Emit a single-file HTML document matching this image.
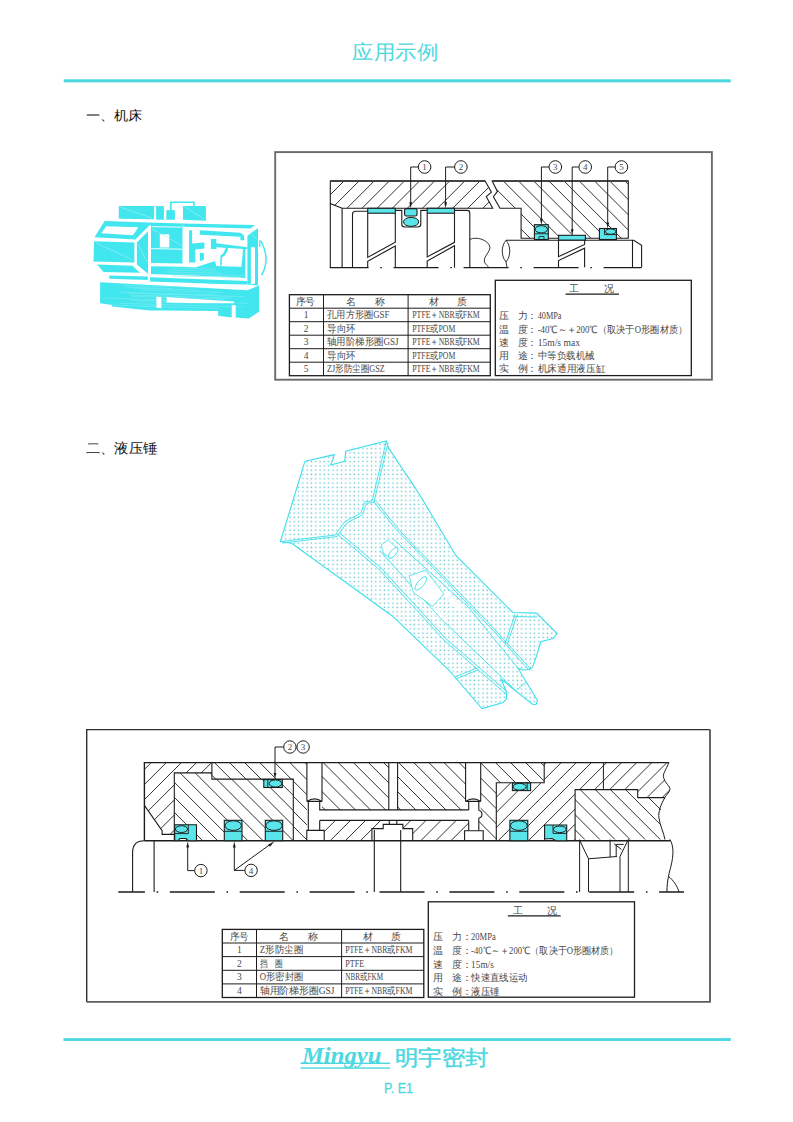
<!DOCTYPE html>
<html><head><meta charset="utf-8"><title>应用示例</title>
<style>
html,body{margin:0;padding:0;background:#fff;}
body{width:793px;height:1122px;position:relative;overflow:hidden;font-family:"Liberation Sans",sans-serif;}
.t{position:absolute;white-space:nowrap;line-height:1;}
</style></head><body>
<svg width="793" height="1122" viewBox="0 0 793 1122" style="position:absolute;left:0;top:0">
<defs><clipPath id="c1"><polygon points="330.3,181.0 485.1,181.0 491.4,192.2 486.3,196.7 492.7,208.3 342.1,208.3 330.3,203.6"/></clipPath><clipPath id="c2"><polygon points="492.2,181.0 628.3,181.0 628.3,238.3 521.1,238.3 521.1,208.3 500.0,208.3 493.4,196.7 497.4,191.4"/></clipPath><clipPath id="c3"><polygon points="144.4,762.6 211.9,762.6 211.9,772.9 174.3,772.9 174.3,834.4 162.1,834.4 162.1,830.7 144.4,805.4"/></clipPath><clipPath id="c4"><polygon points="211.9,762.6 306.9,762.6 306.9,840.7 293.3,840.7 293.3,779.1 211.9,779.1"/></clipPath><clipPath id="c5"><polygon points="174.3,772.9 211.9,772.9 211.9,779.1 293.3,779.1 293.3,840.7 174.3,840.7"/></clipPath><clipPath id="c6"><polygon points="322.0,762.6 388.8,762.6 388.8,810.2 322.0,810.2"/></clipPath><clipPath id="c7"><polygon points="397.6,762.6 465.6,762.6 465.6,810.2 397.6,810.2"/></clipPath><clipPath id="c8"><polygon points="319.7,820.4 389.3,820.4 389.3,824.4 396.8,824.4 396.8,820.4 468.7,820.4 468.7,830.7 464.6,830.7 464.6,840.7 412.7,840.7 412.7,828.6 402.9,828.6 402.9,824.4 383.2,824.4 383.2,828.6 371.9,828.6 371.9,840.7 324.2,840.7 324.2,830.4 319.7,830.4"/></clipPath><clipPath id="c9"><polygon points="480.7,762.6 544.2,762.6 544.2,782.7 496.3,782.7 496.3,840.7 483.2,840.7 483.2,830.7 478.8,830.7 478.8,820.6 480.7,818.0 480.7,810.2"/></clipPath><clipPath id="c10"><polygon points="496.3,782.7 544.2,782.7 544.2,762.6 669.0,762.6 663.9,778.4 670.0,789.5 664.9,797.6 637.7,797.6 637.7,789.6 575.1,789.6 575.1,840.7 496.3,840.7"/></clipPath><clipPath id="c11"><polygon points="575.1,789.6 637.7,789.6 637.7,797.6 664.9,797.6 658.9,817.7 664.9,839.5 575.1,839.5"/></clipPath><clipPath id="bedclip"><path d="M100.1,282.2L247.6,290.2L259.0,285.6L259.0,311.7L248.8,318.6L235.7,317.4L235.7,305.0L231.7,305.0L231.7,317.4L218.1,315.7L218.1,311.0L163.1,310.6L149.5,310.6L112.0,306.6L112.0,304.9L100.1,303.2ZM156.3,296.4L161.4,297.0L161.4,308.3L156.3,307.8ZM166.5,297.0L234.0,301.6L234.0,303.3L218.1,303.3L166.5,302.8Z" clip-rule="evenodd"/></clipPath><pattern id="dots" x="0.5" y="0.5" width="4.29" height="4.29" patternUnits="userSpaceOnUse"><rect x="1.4" y="1.4" width="1.35" height="1.35" fill="#5ec3cc"/></pattern></defs>
<rect x="63.7" y="79.3" width="667.1" height="3.1" fill="#4dd8e0"/>
<rect x="63.5" y="1038.1" width="667.3" height="2.9" fill="#4dd8e0"/>
<text x="395.3" y="59.2" font-family="Liberation Sans, sans-serif" font-size="20" fill="#4dd8e0" text-anchor="middle" font-weight="normal" font-style="normal" textLength="85.7" lengthAdjust="spacingAndGlyphs" >应用示例</text>
<text x="85.7" y="120.3" font-family="Liberation Sans, sans-serif" font-size="13.2" fill="#111" text-anchor="start" font-weight="normal" font-style="normal" textLength="56.6" lengthAdjust="spacingAndGlyphs" >一、机床</text>
<text x="85.6" y="453.2" font-family="Liberation Sans, sans-serif" font-size="13.5" fill="#111" text-anchor="start" font-weight="normal" font-style="normal" textLength="71.9" lengthAdjust="spacingAndGlyphs" >二、液压锤</text>
<text x="301.9" y="1062.8" font-family="Liberation Serif, serif" font-size="24" fill="#4dd8e0" text-anchor="start" font-weight="bold" font-style="italic" textLength="79.5" lengthAdjust="spacingAndGlyphs" >Mingyu</text>
<rect x="300.6" y="1062.6" width="89.5" height="1.4" fill="#4dd8e0"/>
<rect x="300.6" y="1067.4" width="89.5" height="1.4" fill="#4dd8e0"/>
<text x="394.6" y="1065.0" font-family="Liberation Sans, sans-serif" font-size="21" fill="#4dd8e0" text-anchor="start" font-weight="normal" font-style="normal" textLength="94.0" lengthAdjust="spacingAndGlyphs" stroke="#4dd8e0" stroke-width="0.45">明宇密封</text>
<text x="384.0" y="1092.7" font-family="Liberation Sans, sans-serif" font-size="14" fill="#4dd8e0" text-anchor="start" font-weight="normal" font-style="normal" textLength="29.1" lengthAdjust="spacingAndGlyphs" stroke="#4dd8e0" stroke-width="0.3">P. E1</text>
<rect x="275.2" y="152.1" width="436.7" height="227.6" fill="none" stroke="#6a6a6a" stroke-width="1.9"/>
<path clip-path="url(#c1)" d="M330.9,179.0L299.6,210.3M346.0,179.0L314.7,210.3M361.1,179.0L329.8,210.3M376.2,179.0L344.9,210.3M391.3,179.0L360.0,210.3M406.4,179.0L375.1,210.3M421.5,179.0L390.2,210.3M436.6,179.0L405.3,210.3M451.7,179.0L420.4,210.3M466.8,179.0L435.5,210.3M481.9,179.0L450.6,210.3M497.0,179.0L465.7,210.3M512.1,179.0L480.8,210.3" stroke="#1c1c1c" stroke-width="0.9" fill="none"/>
<polygon points="330.3,181.0 485.1,181.0 491.4,192.2 486.3,196.7 492.7,208.3 342.1,208.3 330.3,203.6" fill="none" stroke="#1c1c1c" stroke-width="1.1" />
<path d="M330.3,181H485.1" stroke="#444" stroke-width="1.8" fill="none" />
<path clip-path="url(#c2)" d="M440.5,179.0L501.8,240.3M455.7,179.0L517.0,240.3M470.9,179.0L532.2,240.3M486.1,179.0L547.4,240.3M501.3,179.0L562.6,240.3M516.5,179.0L577.8,240.3M531.7,179.0L593.0,240.3M546.9,179.0L608.2,240.3M562.1,179.0L623.4,240.3M577.3,179.0L638.6,240.3M592.5,179.0L653.8,240.3M607.7,179.0L669.0,240.3M622.9,179.0L684.2,240.3" stroke="#1c1c1c" stroke-width="0.9" fill="none"/>
<polygon points="492.2,181.0 628.3,181.0 628.3,238.3 521.1,238.3 521.1,208.3 500.0,208.3 493.4,196.7 497.4,191.4" fill="none" stroke="#1c1c1c" stroke-width="1.1" />
<path d="M492.2,181H628.3" stroke="#444" stroke-width="1.8" fill="none" />
<path d="M330.3,203.6V267.7 M342.1,208.3V267.7" stroke="#1c1c1c" stroke-width="1.1" fill="none" />
<path d="M352.5,267.7V214.3Q352.5,211.3 355.5,211.3H367.7" stroke="#1c1c1c" stroke-width="1.1" fill="none" />
<rect x="367.7" y="208.3" width="27.6" height="4.9" rx="0" fill="#5ae5ea" stroke="#1c1c1c" stroke-width="1.1"/>
<path d="M367.7,213.2V257.4L395.3,242.2V213.2 M367.7,267.7V261.2L395.3,246V267.7" stroke="#1c1c1c" stroke-width="1.1" fill="none" />
<path d="M395.3,210.4H401.8V224.3Q401.8,227 404.8,227H417.8Q420.8,227 420.8,224.3V210.4H427.2" stroke="#1c1c1c" stroke-width="1.1" fill="none" />
<rect x="404.6" y="208.6" width="12.4" height="7.4" rx="1.5" fill="#5ae5ea" stroke="#1c1c1c" stroke-width="1.1"/>
<ellipse cx="411.1" cy="221.9" rx="7.6" ry="4.5" fill="#5ae5ea" stroke="#1c1c1c" stroke-width="1.0"/>
<rect x="427.2" y="208.3" width="27.3" height="4.9" rx="0" fill="#5ae5ea" stroke="#1c1c1c" stroke-width="1.1"/>
<path d="M427.2,213.2V256.9L454.5,242.3V213.2 M427.2,267.7V261L454.5,245.8V267.7" stroke="#1c1c1c" stroke-width="1.1" fill="none" />
<path d="M454.5,210.4H467Q469.8,210.4 469.8,213.2V267.7" stroke="#1c1c1c" stroke-width="1.1" fill="none" />
<path d="M469.8,239.5C476,236 489,240 489.9,247.2C490,252 484,256 484.3,261C484.5,264 488,266 489.2,267.7" stroke="#1c1c1c" stroke-width="0.9" fill="none" />
<path d="M329.8,267.6H641.6" stroke="#1c1c1c" stroke-width="1.2" fill="none" stroke-dasharray="45 11.7 1.6 11.7" stroke-dashoffset="6.2"/>
<path d="M506,240.3H633.7L641.6,245.3V267.3 M632.5,240.3V267.3" stroke="#1c1c1c" stroke-width="1.1" fill="none" />
<path d="M506,240.3C501,246 501,256 506,262C511,256 511,246 506,240.3 M506,262L507,267.3" stroke="#1c1c1c" stroke-width="0.9" fill="none" />
<path d="M558.5,240.3V256.7L584.6,244.4V240.3 M558.5,267.3V260.5L584.6,248.2V267.3" stroke="#1c1c1c" stroke-width="1.1" fill="none" />
<rect x="534.4" y="224.7" width="13.9" height="14.8" rx="0" fill="#5ae5ea" stroke="#1c1c1c" stroke-width="1.1"/>
<ellipse cx="541.3" cy="229.3" rx="6.2" ry="3.6" fill="#5ae5ea" stroke="#1c1c1c" stroke-width="1.0"/>
<path d="M534.4,233.8H548.3" stroke="#1c1c1c" stroke-width="0.9" fill="none" />
<path d="M539,239.5V236.5H544V239.5" stroke="#1c1c1c" stroke-width="0.8" fill="none" />
<rect x="558.6" y="235.3" width="26.8" height="4.8" rx="0" fill="#5ae5ea" stroke="#1c1c1c" stroke-width="1.1"/>
<rect x="599.4" y="228.5" width="17.0" height="11.0" rx="0" fill="#5ae5ea" stroke="#1c1c1c" stroke-width="1.1"/>
<path d="M604.5,228.5V234.6H616.4" stroke="#1c1c1c" stroke-width="0.9" fill="none" />
<ellipse cx="610.6" cy="231.6" rx="5.2" ry="2.7" fill="#5ae5ea" stroke="#1c1c1c" stroke-width="1.0"/>
<path d="M418.3,167H410.7V203.3" stroke="#1c1c1c" stroke-width="1.0" fill="none" />
<polygon points="409.3,202.3 412.1,202.3 410.7,208.3" fill="#1c1c1c"/>
<path d="M454.6,167H445.6V203.3" stroke="#1c1c1c" stroke-width="1.0" fill="none" />
<polygon points="444.2,202.3 447.0,202.3 445.6,208.3" fill="#1c1c1c"/>
<path d="M549.0,167H541.4V219.7" stroke="#1c1c1c" stroke-width="1.0" fill="none" />
<polygon points="540.0,218.7 542.8,218.7 541.4,224.7" fill="#1c1c1c"/>
<path d="M578.9,167H572.2V230.3" stroke="#1c1c1c" stroke-width="1.0" fill="none" />
<polygon points="570.8,229.3 573.6,229.3 572.2,235.3" fill="#1c1c1c"/>
<path d="M615.1,167H607.7V223.5" stroke="#1c1c1c" stroke-width="1.0" fill="none" />
<polygon points="606.3,222.5 609.1,222.5 607.7,228.5" fill="#1c1c1c"/>
<circle cx="424.6" cy="167.0" r="6.3" fill="#fff" stroke="#1c1c1c" stroke-width="1"/>
<text x="424.6" y="170.3" font-family="Liberation Serif, serif" font-size="9" fill="#484848" text-anchor="middle" font-weight="normal" font-style="normal" >1</text>
<circle cx="460.9" cy="167.0" r="6.3" fill="#fff" stroke="#1c1c1c" stroke-width="1"/>
<text x="460.9" y="170.3" font-family="Liberation Serif, serif" font-size="9" fill="#484848" text-anchor="middle" font-weight="normal" font-style="normal" >2</text>
<circle cx="555.3" cy="167.0" r="6.3" fill="#fff" stroke="#1c1c1c" stroke-width="1"/>
<text x="555.3" y="170.3" font-family="Liberation Serif, serif" font-size="9" fill="#484848" text-anchor="middle" font-weight="normal" font-style="normal" >3</text>
<circle cx="585.2" cy="167.0" r="6.3" fill="#fff" stroke="#1c1c1c" stroke-width="1"/>
<text x="585.2" y="170.3" font-family="Liberation Serif, serif" font-size="9" fill="#484848" text-anchor="middle" font-weight="normal" font-style="normal" >4</text>
<circle cx="621.4" cy="167.0" r="6.3" fill="#fff" stroke="#1c1c1c" stroke-width="1"/>
<text x="621.4" y="170.3" font-family="Liberation Serif, serif" font-size="9" fill="#484848" text-anchor="middle" font-weight="normal" font-style="normal" >5</text>
<rect x="289.4" y="294.7" width="200.9" height="81.0" fill="none" stroke="#1c1c1c" stroke-width="1.3"/>
<path d="M289.4,308.2H490.3" stroke="#1c1c1c" stroke-width="1.0" fill="none" />
<path d="M289.4,321.7H490.3" stroke="#1c1c1c" stroke-width="1.0" fill="none" />
<path d="M289.4,335.2H490.3" stroke="#1c1c1c" stroke-width="1.0" fill="none" />
<path d="M289.4,348.7H490.3" stroke="#1c1c1c" stroke-width="1.0" fill="none" />
<path d="M289.4,362.2H490.3" stroke="#1c1c1c" stroke-width="1.0" fill="none" />
<path d="M323.5,294.7V375.7 M408.1,294.7V375.7" stroke="#1c1c1c" stroke-width="1.0" fill="none" />
<text x="295.8" y="304.8" font-family="Liberation Serif, serif" font-size="9.5" fill="#484848" text-anchor="start" font-weight="normal" font-style="normal" textLength="19.4" lengthAdjust="spacingAndGlyphs" >序号</text>
<text x="345.7" y="304.8" font-family="Liberation Serif, serif" font-size="9.5" fill="#484848" text-anchor="start" font-weight="normal" font-style="normal" >名</text>
<text x="375.2" y="304.8" font-family="Liberation Serif, serif" font-size="9.5" fill="#484848" text-anchor="start" font-weight="normal" font-style="normal" >称</text>
<text x="429.0" y="304.8" font-family="Liberation Serif, serif" font-size="9.5" fill="#484848" text-anchor="start" font-weight="normal" font-style="normal" >材</text>
<text x="457.0" y="304.8" font-family="Liberation Serif, serif" font-size="9.5" fill="#484848" text-anchor="start" font-weight="normal" font-style="normal" >质</text>
<text x="306.2" y="318.2" font-family="Liberation Serif, serif" font-size="9.5" fill="#484848" text-anchor="middle" font-weight="normal" font-style="normal" >1</text>
<text x="327.1" y="318.2" font-family="Liberation Serif, serif" font-size="9.5" fill="#484848" text-anchor="start" font-weight="normal" font-style="normal" textLength="62.2" lengthAdjust="spacingAndGlyphs" >孔用方形圈GSF</text>
<text x="412.3" y="318.2" font-family="Liberation Serif, serif" font-size="9.5" fill="#484848" text-anchor="start" font-weight="normal" font-style="normal" textLength="67.4" lengthAdjust="spacingAndGlyphs" >PTFE＋NBR或FKM</text>
<text x="306.2" y="331.8" font-family="Liberation Serif, serif" font-size="9.5" fill="#484848" text-anchor="middle" font-weight="normal" font-style="normal" >2</text>
<text x="327.1" y="331.8" font-family="Liberation Serif, serif" font-size="9.5" fill="#484848" text-anchor="start" font-weight="normal" font-style="normal" textLength="28.3" lengthAdjust="spacingAndGlyphs" >导向环</text>
<text x="412.3" y="331.8" font-family="Liberation Serif, serif" font-size="9.5" fill="#484848" text-anchor="start" font-weight="normal" font-style="normal" textLength="43.0" lengthAdjust="spacingAndGlyphs" >PTFE或POM</text>
<text x="306.2" y="345.2" font-family="Liberation Serif, serif" font-size="9.5" fill="#484848" text-anchor="middle" font-weight="normal" font-style="normal" >3</text>
<text x="327.1" y="345.2" font-family="Liberation Serif, serif" font-size="9.5" fill="#484848" text-anchor="start" font-weight="normal" font-style="normal" textLength="71.3" lengthAdjust="spacingAndGlyphs" >轴用阶梯形圈GSJ</text>
<text x="412.3" y="345.2" font-family="Liberation Serif, serif" font-size="9.5" fill="#484848" text-anchor="start" font-weight="normal" font-style="normal" textLength="67.4" lengthAdjust="spacingAndGlyphs" >PTFE＋NBR或FKM</text>
<text x="306.2" y="358.8" font-family="Liberation Serif, serif" font-size="9.5" fill="#484848" text-anchor="middle" font-weight="normal" font-style="normal" >4</text>
<text x="327.1" y="358.8" font-family="Liberation Serif, serif" font-size="9.5" fill="#484848" text-anchor="start" font-weight="normal" font-style="normal" textLength="28.3" lengthAdjust="spacingAndGlyphs" >导向环</text>
<text x="412.3" y="358.8" font-family="Liberation Serif, serif" font-size="9.5" fill="#484848" text-anchor="start" font-weight="normal" font-style="normal" textLength="43.0" lengthAdjust="spacingAndGlyphs" >PTFE或POM</text>
<text x="306.2" y="372.2" font-family="Liberation Serif, serif" font-size="9.5" fill="#484848" text-anchor="middle" font-weight="normal" font-style="normal" >5</text>
<text x="327.1" y="372.2" font-family="Liberation Serif, serif" font-size="9.5" fill="#484848" text-anchor="start" font-weight="normal" font-style="normal" textLength="57.5" lengthAdjust="spacingAndGlyphs" >ZJ形防尘圈GSZ</text>
<text x="412.3" y="372.2" font-family="Liberation Serif, serif" font-size="9.5" fill="#484848" text-anchor="start" font-weight="normal" font-style="normal" textLength="67.4" lengthAdjust="spacingAndGlyphs" >PTFE＋NBR或FKM</text>
<rect x="495.3" y="280.3" width="196" height="95.3" fill="none" stroke="#1c1c1c" stroke-width="1.3"/>
<text x="569.4" y="291.5" font-family="Liberation Serif, serif" font-size="9.5" fill="#484848" text-anchor="start" font-weight="normal" font-style="normal" >工</text>
<text x="603.9" y="291.5" font-family="Liberation Serif, serif" font-size="9.5" fill="#484848" text-anchor="start" font-weight="normal" font-style="normal" >况</text>
<path d="M565.5,294.1H619" stroke="#1c1c1c" stroke-width="1.3" fill="none" />
<text x="499.3" y="319.3" font-family="Liberation Serif, serif" font-size="9.5" fill="#484848" text-anchor="start" font-weight="normal" font-style="normal" >压</text>
<text x="517.8" y="319.3" font-family="Liberation Serif, serif" font-size="9.5" fill="#484848" text-anchor="start" font-weight="normal" font-style="normal" >力</text>
<text x="527.3" y="319.3" font-family="Liberation Serif, serif" font-size="9.5" fill="#484848" text-anchor="start" font-weight="normal" font-style="normal" >：</text>
<text x="537.7" y="319.3" font-family="Liberation Serif, serif" font-size="9.5" fill="#484848" text-anchor="start" font-weight="normal" font-style="normal" textLength="23.8" lengthAdjust="spacingAndGlyphs" >40MPa</text>
<text x="499.3" y="332.6" font-family="Liberation Serif, serif" font-size="9.5" fill="#484848" text-anchor="start" font-weight="normal" font-style="normal" >温</text>
<text x="517.8" y="332.6" font-family="Liberation Serif, serif" font-size="9.5" fill="#484848" text-anchor="start" font-weight="normal" font-style="normal" >度</text>
<text x="527.3" y="332.6" font-family="Liberation Serif, serif" font-size="9.5" fill="#484848" text-anchor="start" font-weight="normal" font-style="normal" >：</text>
<text x="537.7" y="332.6" font-family="Liberation Serif, serif" font-size="9.5" fill="#484848" text-anchor="start" font-weight="normal" font-style="normal" textLength="149.6" lengthAdjust="spacingAndGlyphs" >-40℃～＋200℃（取决于O形圈材质）</text>
<text x="499.3" y="345.8" font-family="Liberation Serif, serif" font-size="9.5" fill="#484848" text-anchor="start" font-weight="normal" font-style="normal" >速</text>
<text x="517.8" y="345.8" font-family="Liberation Serif, serif" font-size="9.5" fill="#484848" text-anchor="start" font-weight="normal" font-style="normal" >度</text>
<text x="527.3" y="345.8" font-family="Liberation Serif, serif" font-size="9.5" fill="#484848" text-anchor="start" font-weight="normal" font-style="normal" >：</text>
<text x="537.7" y="345.8" font-family="Liberation Serif, serif" font-size="9.5" fill="#484848" text-anchor="start" font-weight="normal" font-style="normal" textLength="42.3" lengthAdjust="spacingAndGlyphs" >15m/s max</text>
<text x="499.3" y="358.9" font-family="Liberation Serif, serif" font-size="9.5" fill="#484848" text-anchor="start" font-weight="normal" font-style="normal" >用</text>
<text x="517.8" y="358.9" font-family="Liberation Serif, serif" font-size="9.5" fill="#484848" text-anchor="start" font-weight="normal" font-style="normal" >途</text>
<text x="527.3" y="358.9" font-family="Liberation Serif, serif" font-size="9.5" fill="#484848" text-anchor="start" font-weight="normal" font-style="normal" >：</text>
<text x="537.7" y="358.9" font-family="Liberation Serif, serif" font-size="9.5" fill="#484848" text-anchor="start" font-weight="normal" font-style="normal" textLength="56.9" lengthAdjust="spacingAndGlyphs" >中等负载机械</text>
<text x="499.3" y="372.3" font-family="Liberation Serif, serif" font-size="9.5" fill="#484848" text-anchor="start" font-weight="normal" font-style="normal" >实</text>
<text x="517.8" y="372.3" font-family="Liberation Serif, serif" font-size="9.5" fill="#484848" text-anchor="start" font-weight="normal" font-style="normal" >例</text>
<text x="527.3" y="372.3" font-family="Liberation Serif, serif" font-size="9.5" fill="#484848" text-anchor="start" font-weight="normal" font-style="normal" >：</text>
<text x="537.7" y="372.3" font-family="Liberation Serif, serif" font-size="9.5" fill="#484848" text-anchor="start" font-weight="normal" font-style="normal" textLength="67.5" lengthAdjust="spacingAndGlyphs" >机床通用液压缸</text>
<path d="M86.7,1001.9V729.6H710" stroke="#2e2e2e" stroke-width="1.4" fill="none" />
<path d="M86.7,1001.9H710V729.6" stroke="#5e5e5e" stroke-width="1.9" fill="none" />
<path clip-path="url(#c3)" d="M153.2,760.6L77.4,836.4M168.3,760.6L92.5,836.4M183.4,760.6L107.6,836.4M198.5,760.6L122.7,836.4M213.6,760.6L137.8,836.4M228.7,760.6L152.9,836.4M243.8,760.6L168.0,836.4M258.9,760.6L183.1,836.4M274.0,760.6L198.2,836.4M289.1,760.6L213.3,836.4" stroke="#1c1c1c" stroke-width="0.9" fill="none"/>
<path clip-path="url(#c4)" d="M136.9,760.6L219.0,842.7M152.0,760.6L234.1,842.7M167.1,760.6L249.2,842.7M182.2,760.6L264.3,842.7M197.3,760.6L279.4,842.7M212.4,760.6L294.5,842.7M227.5,760.6L309.6,842.7M242.6,760.6L324.7,842.7M257.7,760.6L339.8,842.7M272.8,760.6L354.9,842.7M287.9,760.6L370.0,842.7M303.0,760.6L385.1,842.7" stroke="#1c1c1c" stroke-width="0.9" fill="none"/>
<path clip-path="url(#c5)" d="M102.6,770.9L174.4,842.7M117.7,770.9L189.5,842.7M132.8,770.9L204.6,842.7M147.9,770.9L219.7,842.7M163.0,770.9L234.8,842.7M178.1,770.9L249.9,842.7M193.2,770.9L265.0,842.7M208.3,770.9L280.1,842.7M223.4,770.9L295.2,842.7M238.5,770.9L310.3,842.7M253.6,770.9L325.4,842.7M268.7,770.9L340.5,842.7M283.8,770.9L355.6,842.7" stroke="#1c1c1c" stroke-width="0.9" fill="none"/>
<path clip-path="url(#c6)" d="M275.9,760.6L327.5,812.2M291.0,760.6L342.6,812.2M306.1,760.6L357.7,812.2M321.2,760.6L372.8,812.2M336.3,760.6L387.9,812.2M351.4,760.6L403.0,812.2M366.5,760.6L418.1,812.2M381.6,760.6L433.2,812.2" stroke="#1c1c1c" stroke-width="0.9" fill="none"/>
<path clip-path="url(#c7)" d="M351.4,760.6L403.0,812.2M366.5,760.6L418.1,812.2M381.6,760.6L433.2,812.2M396.7,760.6L448.3,812.2M411.8,760.6L463.4,812.2M426.9,760.6L478.5,812.2M442.0,760.6L493.6,812.2M457.1,760.6L508.7,812.2" stroke="#1c1c1c" stroke-width="0.9" fill="none"/>
<path clip-path="url(#c8)" d="M322.3,818.4L298.0,842.7M337.4,818.4L313.1,842.7M352.5,818.4L328.2,842.7M367.6,818.4L343.3,842.7M382.7,818.4L358.4,842.7M397.8,818.4L373.5,842.7M412.9,818.4L388.6,842.7M428.0,818.4L403.7,842.7M443.1,818.4L418.8,842.7M458.2,818.4L433.9,842.7M473.3,818.4L449.0,842.7M488.4,818.4L464.1,842.7" stroke="#1c1c1c" stroke-width="0.9" fill="none"/>
<path clip-path="url(#c9)" d="M402.9,760.6L485.0,842.7M418.0,760.6L500.1,842.7M433.1,760.6L515.2,842.7M448.2,760.6L530.3,842.7M463.3,760.6L545.4,842.7M478.4,760.6L560.5,842.7M493.5,760.6L575.6,842.7M508.6,760.6L590.7,842.7M523.7,760.6L605.8,842.7M538.8,760.6L620.9,842.7" stroke="#1c1c1c" stroke-width="0.9" fill="none"/>
<path clip-path="url(#c10)" d="M502.8,760.6L420.7,842.7M517.9,760.6L435.8,842.7M533.0,760.6L450.9,842.7M548.1,760.6L466.0,842.7M563.2,760.6L481.1,842.7M578.3,760.6L496.2,842.7M593.4,760.6L511.3,842.7M608.5,760.6L526.4,842.7M623.6,760.6L541.5,842.7M638.7,760.6L556.6,842.7M653.8,760.6L571.7,842.7M668.9,760.6L586.8,842.7M684.0,760.6L601.9,842.7M699.1,760.6L617.0,842.7M714.2,760.6L632.1,842.7M729.3,760.6L647.2,842.7M744.4,760.6L662.3,842.7" stroke="#1c1c1c" stroke-width="0.9" fill="none"/>
<path clip-path="url(#c11)" d="M532.9,787.6L586.8,841.5M548.0,787.6L601.9,841.5M563.1,787.6L617.0,841.5M578.2,787.6L632.1,841.5M593.3,787.6L647.2,841.5M608.4,787.6L662.3,841.5M623.5,787.6L677.4,841.5M638.6,787.6L692.5,841.5M653.7,787.6L707.6,841.5" stroke="#1c1c1c" stroke-width="0.9" fill="none"/>
<path d="M144.4,840.7V762.6H669" stroke="#1c1c1c" stroke-width="1.4" fill="none" />
<path d="M144.4,805.4L162.1,830.7V834.4H174.3" stroke="#1c1c1c" stroke-width="1.1" fill="none" />
<path d="M174.3,840.7V772.9H211.9 M211.9,762.6V779.1H293.3V840.7" stroke="#1c1c1c" stroke-width="1.1" fill="none" />
<path d="M306.9,762.6V801.4 M322,762.6V801.4 M306.9,801.4Q314.5,796.3 322,801.4 M306.9,801.4H322" stroke="#1c1c1c" stroke-width="1.1" fill="none" />
<path d="M308.3,801.4V830.4 M319.7,801.4V809.9H468.7 M319.7,820.4V830.4 M319.7,820.4H468.7" stroke="#1c1c1c" stroke-width="1.1" fill="none" />
<path d="M306.8,840.7V830.4H324.2V840.7" stroke="#1c1c1c" stroke-width="1.1" fill="none" />
<path d="M388.8,762.6V809.9 M397.6,762.6V809.9 M389.3,820.4V824.4 M396.8,820.4V824.4" stroke="#1c1c1c" stroke-width="1.1" fill="none" />
<path d="M371.9,840.7V828.6H383.2V824.4H402.9V828.6H412.7V840.7 M374.3,830V892 M400.7,830V892" stroke="#1c1c1c" stroke-width="1.1" fill="none" />
<path d="M465.6,762.6V801.4 M480.7,762.6V801.4 M465.6,801.4Q473.1,796.3 480.7,801.4 M465.6,801.4H480.7" stroke="#1c1c1c" stroke-width="1.1" fill="none" />
<path d="M468.7,801.4V809.9 M478.8,801.4V810.5 M478.8,810.5A3.8,3.8 0 0 1 478.8,818 M478.8,818V830.7 M468.7,820.4V830.7" stroke="#1c1c1c" stroke-width="1.1" fill="none" />
<path d="M464.6,840.7V830.7H483.2V840.7" stroke="#1c1c1c" stroke-width="1.1" fill="none" />
<path d="M496.3,840.7V782.7H544.2V762.6" stroke="#1c1c1c" stroke-width="1.1" fill="none" />
<path d="M575.1,840.7V789.6H637.7V797.6H664.9" stroke="#1c1c1c" stroke-width="1.1" fill="none" />
<path d="M603.4,762.6V789.6" stroke="#1c1c1c" stroke-width="1.0" fill="none" />
<path d="M669,762.2C666,770 662,774 663.9,778.4C665,783 670,786 670,789.5C669,793 666,795 664.9,797.6C661,804 658,812 658.9,817.7C660,826 664,833 664.9,839.5" stroke="#1c1c1c" stroke-width="1.0" fill="none" />
<path d="M144.4,840.7H670" stroke="#1c1c1c" stroke-width="1.4" fill="none" />
<path d="M132.6,892V852.5Q132.6,840.7 144.4,840.7 M154.1,840.7V892" stroke="#1c1c1c" stroke-width="1.1" fill="none" />
<path d="M669.9,839.4C674,846 673.5,856 671,866C669.5,872 667,880 666.9,892 M668.4,876.2C673,880 677.5,886 679,892" stroke="#1c1c1c" stroke-width="1.0" fill="none" />
<path d="M579.6,839.5V892 M579.8,840.6L588.5,858.8V892 M588.5,858.8L616.9,856.5 M610.1,839.5V857.2 M616.2,856.8V844.4H623.7 M628.3,839.4L620,856.5V892 M628.3,839.4V892 M613.9,843.6L621.5,849.5" stroke="#1c1c1c" stroke-width="1.0" fill="none" />
<path d="M118.3,892H684" stroke="#1c1c1c" stroke-width="1.3" fill="none" stroke-dasharray="45 11.7 1.6 11.6" stroke-dashoffset="18.4"/>
<polygon points="174.7,824.7 196.5,824.7 196.5,840.7 188.0,840.7 186.0,838.5 180.0,838.5 178.0,840.7 174.7,840.7" fill="#5ae5ea" stroke="#1c1c1c" stroke-width="1.1" />
<path d="M174.7,833.6H188.3V824.7" stroke="#1c1c1c" stroke-width="0.9" fill="none" />
<ellipse cx="181.5" cy="829.1" rx="6.1" ry="3.4" fill="#5ae5ea" stroke="#1c1c1c" stroke-width="1.0"/>
<rect x="224.3" y="820.3" width="17.7" height="20.4" rx="0" fill="#5ae5ea" stroke="#1c1c1c" stroke-width="1.1"/>
<ellipse cx="233.2" cy="825.6" rx="8.2" ry="4.8" fill="#5ae5ea" stroke="#1c1c1c" stroke-width="1.0"/>
<path d="M224.3,831.3H242" stroke="#1c1c1c" stroke-width="0.9" fill="none" />
<rect x="265.3" y="820.3" width="17.4" height="20.4" rx="0" fill="#5ae5ea" stroke="#1c1c1c" stroke-width="1.1"/>
<ellipse cx="274.0" cy="825.6" rx="8.2" ry="4.8" fill="#5ae5ea" stroke="#1c1c1c" stroke-width="1.0"/>
<path d="M265.3,831.3H282.7" stroke="#1c1c1c" stroke-width="0.9" fill="none" />
<rect x="263.8" y="779.6" width="18.5" height="7.9" rx="0" fill="#5ae5ea" stroke="#1c1c1c" stroke-width="1.1"/>
<ellipse cx="275.4" cy="783.5" rx="6.3" ry="3.6" fill="#5ae5ea" stroke="#1c1c1c" stroke-width="1.0"/>
<path d="M267.8,779.6V787.5" stroke="#1c1c1c" stroke-width="0.9" fill="none" />
<rect x="512.4" y="783.0" width="18.2" height="7.6" rx="0" fill="#5ae5ea" stroke="#1c1c1c" stroke-width="1.1"/>
<ellipse cx="519.6" cy="786.8" rx="6.6" ry="3.4" fill="#5ae5ea" stroke="#1c1c1c" stroke-width="1.0"/>
<path d="M527.2,783V790.6" stroke="#1c1c1c" stroke-width="0.9" fill="none" />
<rect x="509.9" y="820.3" width="17.9" height="20.4" rx="0" fill="#5ae5ea" stroke="#1c1c1c" stroke-width="1.1"/>
<ellipse cx="518.9" cy="825.6" rx="8.4" ry="4.8" fill="#5ae5ea" stroke="#1c1c1c" stroke-width="1.0"/>
<path d="M509.9,831.3H527.8" stroke="#1c1c1c" stroke-width="0.9" fill="none" />
<polygon points="544.6,825.0 566.7,825.0 566.7,840.7 556.0,840.7 552.0,838.5 544.6,839.0" fill="#5ae5ea" stroke="#1c1c1c" stroke-width="1.1" />
<path d="M553,825V833.4H566.7" stroke="#1c1c1c" stroke-width="0.9" fill="none" />
<ellipse cx="559.8" cy="829.3" rx="6.4" ry="3.3" fill="#5ae5ea" stroke="#1c1c1c" stroke-width="1.0"/>
<path d="M283.7,747H275V773" stroke="#1c1c1c" stroke-width="1.0" fill="none" />
<polygon points="273.6,773.0 276.4,773.0 275.0,779.0" fill="#1c1c1c"/>
<circle cx="289.9" cy="747.0" r="6.2" fill="#fff" stroke="#1c1c1c" stroke-width="1"/>
<text x="289.9" y="750.3" font-family="Liberation Serif, serif" font-size="9" fill="#484848" text-anchor="middle" font-weight="normal" font-style="normal" >2</text>
<circle cx="303.1" cy="747.0" r="6.2" fill="#fff" stroke="#1c1c1c" stroke-width="1"/>
<text x="303.1" y="750.3" font-family="Liberation Serif, serif" font-size="9" fill="#484848" text-anchor="middle" font-weight="normal" font-style="normal" >3</text>
<path d="M194.7,870.6H187.7V847" stroke="#1c1c1c" stroke-width="1.0" fill="none" />
<polygon points="186.3,847.5 189.1,847.5 187.7,841.5" fill="#1c1c1c"/>
<circle cx="200.9" cy="870.6" r="6.2" fill="#fff" stroke="#1c1c1c" stroke-width="1"/>
<text x="200.9" y="873.9" font-family="Liberation Serif, serif" font-size="9" fill="#484848" text-anchor="middle" font-weight="normal" font-style="normal" >1</text>
<path d="M244.9,870.4H234.3V847 M234.3,870.4L270,844.5" stroke="#1c1c1c" stroke-width="1.0" fill="none" />
<polygon points="232.9,847.5 235.7,847.5 234.3,841.5" fill="#1c1c1c"/>
<polygon points="274.3,841.6 268.2,844.4 270.0,846.8" fill="#1c1c1c"/>
<circle cx="251.1" cy="870.4" r="6.2" fill="#fff" stroke="#1c1c1c" stroke-width="1"/>
<text x="251.1" y="873.7" font-family="Liberation Serif, serif" font-size="9" fill="#484848" text-anchor="middle" font-weight="normal" font-style="normal" >4</text>
<rect x="222.3" y="929.4" width="201.5" height="68.1" fill="none" stroke="#1c1c1c" stroke-width="1.3"/>
<path d="M222.3,943.0H423.8" stroke="#1c1c1c" stroke-width="1.0" fill="none" />
<path d="M222.3,956.6H423.8" stroke="#1c1c1c" stroke-width="1.0" fill="none" />
<path d="M222.3,970.3H423.8" stroke="#1c1c1c" stroke-width="1.0" fill="none" />
<path d="M222.3,983.9H423.8" stroke="#1c1c1c" stroke-width="1.0" fill="none" />
<path d="M256.5,929.4V997.5 M341.6,929.4V997.5" stroke="#1c1c1c" stroke-width="1.0" fill="none" />
<text x="229.9" y="939.5" font-family="Liberation Serif, serif" font-size="9.5" fill="#484848" text-anchor="start" font-weight="normal" font-style="normal" textLength="19.0" lengthAdjust="spacingAndGlyphs" >序号</text>
<text x="278.7" y="939.5" font-family="Liberation Serif, serif" font-size="9.5" fill="#484848" text-anchor="start" font-weight="normal" font-style="normal" >名</text>
<text x="308.0" y="939.5" font-family="Liberation Serif, serif" font-size="9.5" fill="#484848" text-anchor="start" font-weight="normal" font-style="normal" >称</text>
<text x="362.8" y="939.5" font-family="Liberation Serif, serif" font-size="9.5" fill="#484848" text-anchor="start" font-weight="normal" font-style="normal" >材</text>
<text x="391.2" y="939.5" font-family="Liberation Serif, serif" font-size="9.5" fill="#484848" text-anchor="start" font-weight="normal" font-style="normal" >质</text>
<text x="239.4" y="953.1" font-family="Liberation Serif, serif" font-size="9.5" fill="#484848" text-anchor="middle" font-weight="normal" font-style="normal" >1</text>
<text x="259.7" y="953.1" font-family="Liberation Serif, serif" font-size="9.5" fill="#484848" text-anchor="start" font-weight="normal" font-style="normal" textLength="43.4" lengthAdjust="spacingAndGlyphs" >Z形防尘圈</text>
<text x="345.2" y="953.1" font-family="Liberation Serif, serif" font-size="9.5" fill="#484848" text-anchor="start" font-weight="normal" font-style="normal" textLength="67.2" lengthAdjust="spacingAndGlyphs" >PTFE＋NBR或FKM</text>
<text x="239.4" y="966.8" font-family="Liberation Serif, serif" font-size="9.5" fill="#484848" text-anchor="middle" font-weight="normal" font-style="normal" >2</text>
<text x="259.7" y="966.8" font-family="Liberation Serif, serif" font-size="9.5" fill="#484848" text-anchor="start" font-weight="normal" font-style="normal" textLength="23.1" lengthAdjust="spacingAndGlyphs" >挡　圈</text>
<text x="345.2" y="966.8" font-family="Liberation Serif, serif" font-size="9.5" fill="#484848" text-anchor="start" font-weight="normal" font-style="normal" textLength="18.9" lengthAdjust="spacingAndGlyphs" >PTFE</text>
<text x="239.4" y="980.4" font-family="Liberation Serif, serif" font-size="9.5" fill="#484848" text-anchor="middle" font-weight="normal" font-style="normal" >3</text>
<text x="259.7" y="980.4" font-family="Liberation Serif, serif" font-size="9.5" fill="#484848" text-anchor="start" font-weight="normal" font-style="normal" textLength="43.4" lengthAdjust="spacingAndGlyphs" >O形密封圈</text>
<text x="345.2" y="980.4" font-family="Liberation Serif, serif" font-size="9.5" fill="#484848" text-anchor="start" font-weight="normal" font-style="normal" textLength="37.9" lengthAdjust="spacingAndGlyphs" >NBR或FKM</text>
<text x="239.4" y="994.0" font-family="Liberation Serif, serif" font-size="9.5" fill="#484848" text-anchor="middle" font-weight="normal" font-style="normal" >4</text>
<text x="259.7" y="994.0" font-family="Liberation Serif, serif" font-size="9.5" fill="#484848" text-anchor="start" font-weight="normal" font-style="normal" textLength="74.6" lengthAdjust="spacingAndGlyphs" >轴用阶梯形圈GSJ</text>
<text x="345.2" y="994.0" font-family="Liberation Serif, serif" font-size="9.5" fill="#484848" text-anchor="start" font-weight="normal" font-style="normal" textLength="67.2" lengthAdjust="spacingAndGlyphs" >PTFE＋NBR或FKM</text>
<rect x="428.3" y="901.8" width="206.2" height="95.4" fill="none" stroke="#1c1c1c" stroke-width="1.3"/>
<text x="512.7" y="914.2" font-family="Liberation Serif, serif" font-size="9.5" fill="#484848" text-anchor="start" font-weight="normal" font-style="normal" >工</text>
<text x="546.7" y="914.2" font-family="Liberation Serif, serif" font-size="9.5" fill="#484848" text-anchor="start" font-weight="normal" font-style="normal" >况</text>
<path d="M507.8,915.8H560.7" stroke="#1c1c1c" stroke-width="1.3" fill="none" />
<text x="432.5" y="939.9" font-family="Liberation Serif, serif" font-size="9.5" fill="#484848" text-anchor="start" font-weight="normal" font-style="normal" >压</text>
<text x="452.2" y="939.9" font-family="Liberation Serif, serif" font-size="9.5" fill="#484848" text-anchor="start" font-weight="normal" font-style="normal" >力</text>
<text x="461.5" y="939.9" font-family="Liberation Serif, serif" font-size="9.5" fill="#484848" text-anchor="start" font-weight="normal" font-style="normal" >：</text>
<text x="471.1" y="939.9" font-family="Liberation Serif, serif" font-size="9.5" fill="#484848" text-anchor="start" font-weight="normal" font-style="normal" textLength="24.6" lengthAdjust="spacingAndGlyphs" >20MPa</text>
<text x="432.5" y="954.3" font-family="Liberation Serif, serif" font-size="9.5" fill="#484848" text-anchor="start" font-weight="normal" font-style="normal" >温</text>
<text x="452.2" y="954.3" font-family="Liberation Serif, serif" font-size="9.5" fill="#484848" text-anchor="start" font-weight="normal" font-style="normal" >度</text>
<text x="461.5" y="954.3" font-family="Liberation Serif, serif" font-size="9.5" fill="#484848" text-anchor="start" font-weight="normal" font-style="normal" >：</text>
<text x="471.1" y="954.3" font-family="Liberation Serif, serif" font-size="9.5" fill="#484848" text-anchor="start" font-weight="normal" font-style="normal" textLength="147.5" lengthAdjust="spacingAndGlyphs" >-40℃～＋200℃（取决于O形圈材质）</text>
<text x="432.5" y="967.9" font-family="Liberation Serif, serif" font-size="9.5" fill="#484848" text-anchor="start" font-weight="normal" font-style="normal" >速</text>
<text x="452.2" y="967.9" font-family="Liberation Serif, serif" font-size="9.5" fill="#484848" text-anchor="start" font-weight="normal" font-style="normal" >度</text>
<text x="461.5" y="967.9" font-family="Liberation Serif, serif" font-size="9.5" fill="#484848" text-anchor="start" font-weight="normal" font-style="normal" >：</text>
<text x="471.1" y="967.9" font-family="Liberation Serif, serif" font-size="9.5" fill="#484848" text-anchor="start" font-weight="normal" font-style="normal" textLength="22.7" lengthAdjust="spacingAndGlyphs" >15m/s</text>
<text x="432.5" y="981.2" font-family="Liberation Serif, serif" font-size="9.5" fill="#484848" text-anchor="start" font-weight="normal" font-style="normal" >用</text>
<text x="452.2" y="981.2" font-family="Liberation Serif, serif" font-size="9.5" fill="#484848" text-anchor="start" font-weight="normal" font-style="normal" >途</text>
<text x="461.5" y="981.2" font-family="Liberation Serif, serif" font-size="9.5" fill="#484848" text-anchor="start" font-weight="normal" font-style="normal" >：</text>
<text x="471.1" y="981.2" font-family="Liberation Serif, serif" font-size="9.5" fill="#484848" text-anchor="start" font-weight="normal" font-style="normal" textLength="56.7" lengthAdjust="spacingAndGlyphs" >快速直线运动</text>
<text x="432.5" y="994.8" font-family="Liberation Serif, serif" font-size="9.5" fill="#484848" text-anchor="start" font-weight="normal" font-style="normal" >实</text>
<text x="452.2" y="994.8" font-family="Liberation Serif, serif" font-size="9.5" fill="#484848" text-anchor="start" font-weight="normal" font-style="normal" >例</text>
<text x="461.5" y="994.8" font-family="Liberation Serif, serif" font-size="9.5" fill="#484848" text-anchor="start" font-weight="normal" font-style="normal" >：</text>
<text x="471.1" y="994.8" font-family="Liberation Serif, serif" font-size="9.5" fill="#484848" text-anchor="start" font-weight="normal" font-style="normal" textLength="28.4" lengthAdjust="spacingAndGlyphs" >液压锤</text>
<polygon points="118.8,206.1 154.1,206.1 154.1,219.2 118.8,218.7" fill="#42e6ee"/>
<polygon points="156.1,206.1 163.9,206.1 163.9,219.7 156.1,219.7" fill="#42e6ee"/>
<polygon points="166.3,210.1 174.9,210.1 174.9,219.7 166.3,219.7" fill="#42e6ee"/>
<polygon points="169.9,201.5 194.8,201.5 194.8,206.1 193.3,206.1 193.3,203.0 171.6,203.0 171.6,210.1 169.9,210.1" fill="#42e6ee"/>
<polygon points="183.0,206.1 205.9,206.1 205.9,220.7 183.0,219.7" fill="#42e6ee"/>
<path d="M94.6,237.3L104.6,221.0L149.5,222.5L150.0,224.7L135.4,239.4ZM101.1,233.3L106.2,226.2L138.4,227.3L132.9,235.3Z" fill="#42e6ee" fill-rule="evenodd"/>
<polygon points="94.0,241.2 134.4,242.4 134.4,262.6 93.5,261.6" fill="#42e6ee"/>
<polygon points="136.9,242.4 148.0,231.3 148.0,273.7 136.9,264.6" fill="#42e6ee"/>
<polygon points="97.1,264.6 132.4,265.8 140.0,272.7 103.6,272.1" fill="#42e6ee"/>
<path d="M149.5,222.5L182.5,223.5L182.5,263.6L151.0,263.1L151.0,227.3ZM159.8,234.3L169.3,234.3L169.3,247.4L159.8,247.4Z" fill="#42e6ee" fill-rule="evenodd"/>
<polygon points="182.0,223.5 255.0,225.1 250.4,228.6 183.2,226.8" fill="#42e6ee"/>
<polygon points="189.1,230.3 192.1,230.3 192.1,243.4 204.4,242.4 204.4,248.4 195.3,249.4 195.3,262.6 189.1,262.6" fill="#42e6ee"/>
<polygon points="199.8,253.0 203.9,253.0 203.9,260.1 199.8,261.0" fill="#42e6ee"/>
<polygon points="199.8,230.3 240.4,232.7 243.9,235.2 244.4,240.2 240.4,240.2 240.4,236.7 199.8,234.8" fill="#42e6ee"/>
<polygon points="210.9,238.9 216.3,238.9 216.3,243.2 247.4,247.3 247.4,249.2 216.3,247.3 216.3,249.1 210.9,249.1" fill="#42e6ee"/>
<polygon points="225.7,247.3 227.9,247.3 227.7,250.8 224.7,255.4 222.0,257.4 221.6,265.4 220.0,265.4 220.5,255.4 223.5,253.3 225.5,248.3" fill="#42e6ee"/>
<polygon points="151.0,266.3 183.2,266.8 195.3,267.6 215.1,260.9 216.1,266.0 244.4,267.0 244.4,277.5 151.0,274.0" fill="#42e6ee"/>
<polygon points="109.2,275.4 147.8,276.6 147.8,280.0 109.2,278.8" fill="#42e6ee"/>
<polygon points="150.0,277.3 247.4,281.0 247.4,284.6 218.0,284.0 200.0,283.3 150.0,281.5" fill="#42e6ee"/>
<polygon points="243.0,247.6 245.3,247.6 245.3,277.9 241.4,277.9 241.4,266.5 242.6,255.0" fill="#42e6ee"/>
<path d="M247.4,235.7L258.0,228.1L258.0,285.6L247.4,284.6ZM250.9,247.3L255.0,247.3L255.0,283.6L250.9,284.6Z" fill="#42e6ee" fill-rule="evenodd"/>
<path d="M260.6,240.5Q271,259 261.5,275" stroke="#42e6ee" stroke-width="1.5" fill="none"/>
<path d="M259.8,240.5V247" stroke="#42e6ee" stroke-width="1.3" fill="none"/>
<path d="M100.1,282.2L247.6,290.2L259.0,285.6L259.0,311.7L248.8,318.6L235.7,317.4L235.7,305.0L231.7,305.0L231.7,317.4L218.1,315.7L218.1,311.0L163.1,310.6L149.5,310.6L112.0,306.6L112.0,304.9L100.1,303.2ZM156.3,296.4L161.4,297.0L161.4,308.3L156.3,307.8ZM166.5,297.0L234.0,301.6L234.0,303.3L218.1,303.3L166.5,302.8Z" fill="#42e6ee" fill-rule="evenodd"/>
<g clip-path="url(#bedclip)">
<path d="M122.8,285.2L196.1,287.4" stroke="#7eecf1" stroke-width="0.6" fill="none"/>
<path d="M126.0,287.1L171.9,288.5" stroke="#7eecf1" stroke-width="0.6" fill="none"/>
<path d="M134.5,288.2L197.8,290.1" stroke="#7eecf1" stroke-width="0.6" fill="none"/>
<path d="M140.8,290.0L223.1,292.5" stroke="#7eecf1" stroke-width="0.6" fill="none"/>
<path d="M120.1,292.1L217.6,295.0" stroke="#7eecf1" stroke-width="0.6" fill="none"/>
<path d="M126.4,293.1L244.5,296.7" stroke="#7eecf1" stroke-width="0.6" fill="none"/>
<path d="M130.7,295.0L231.1,298.0" stroke="#7eecf1" stroke-width="0.6" fill="none"/>
<path d="M131.3,296.3L224.5,299.0" stroke="#7eecf1" stroke-width="0.6" fill="none"/>
<path d="M102.2,298.0L220.1,301.6" stroke="#7eecf1" stroke-width="0.6" fill="none"/>
<path d="M129.8,299.8L248.8,303.4" stroke="#7eecf1" stroke-width="0.6" fill="none"/>
<path d="M137.8,301.6L213.4,303.8" stroke="#7eecf1" stroke-width="0.6" fill="none"/>
<path d="M118.8,303.2L243.0,307.0" stroke="#7eecf1" stroke-width="0.6" fill="none"/>
<path d="M104.9,304.9L157.1,306.5" stroke="#7eecf1" stroke-width="0.6" fill="none"/>
<path d="M139.6,306.0L218.9,308.4" stroke="#7eecf1" stroke-width="0.6" fill="none"/>
</g>
<path d="M170.8,268.0L215.9,268.9" stroke="#7eecf1" stroke-width="0.6" fill="none"/>
<path d="M167.2,270.0L216.5,271.0" stroke="#7eecf1" stroke-width="0.6" fill="none"/>
<path d="M162.5,272.0L221.8,273.2" stroke="#7eecf1" stroke-width="0.6" fill="none"/>
<path d="M169.5,274.0L244.7,275.5" stroke="#7eecf1" stroke-width="0.6" fill="none"/>
<path d="M172.5,276.0L248.9,277.5" stroke="#7eecf1" stroke-width="0.6" fill="none"/>
<path d="M151,248.6L182.5,249.2" stroke="#ffffff" stroke-width="0.9" fill="none"/>
<path d="M151.5,226.6L181.5,227.2" stroke="#ffffff" stroke-width="0.9" fill="none"/>
<path d="M96,240L135,241.5" stroke="#ffffff" stroke-width="0.9" fill="none"/>
<path d="M96,243L133,260" stroke="#9ff0f4" stroke-width="0.6" fill="none"/>
<path d="M138,244L147,262" stroke="#9ff0f4" stroke-width="0.6" fill="none"/>
<path d="M152,229L181,245" stroke="#9ff0f4" stroke-width="0.6" fill="none"/>
<path d="M120,207L152,218" stroke="#9ff0f4" stroke-width="0.6" fill="none"/>
<path d="M185,207L204,219" stroke="#9ff0f4" stroke-width="0.6" fill="none"/>
<path d="M249,231L257,240" stroke="#9ff0f4" stroke-width="0.6" fill="none"/>
<polygon points="305.0,461.2 334.3,454.6 333.4,458.4 330.5,465.0 344.7,461.2 345.7,451.2 386.3,441.0 388.2,447.4 419.4,494.3 456.0,555.7 512.8,612.5 536.7,613.1 557.2,633.6 553.1,638.5 540.8,641.8 536.5,656.1 532.5,667.2 529.4,669.3 523.4,670.3 518.0,668.2 537.5,700.5 536.0,704.5 532.5,704.2 501.2,679.3 506.2,691.5 506.7,698.5 503.2,702.5 482.0,708.6 454.8,677.0 449.3,670.7 392.6,616.2 291.6,543.2 280.4,541.6" fill="url(#dots)" stroke="#3edfe9" stroke-width="1.1"/>
<polygon points="443.0,593.0 447.0,591.0 463.0,609.0 459.0,612.0" fill="#fff"/>
<polygon points="428.0,606.0 432.0,604.0 447.0,619.0 443.0,622.0" fill="#fff"/>
<polyline points="386.3,441.0 372.1,500.9 364.6,501.9 360.8,513.2 344.7,521.7 335.3,535.0 280.4,541.6" fill="none" stroke="#3edfe9" stroke-width="0.9"/>
<polyline points="388.1,442.5 373.9,502.4 366.4,503.4 362.6,514.7 346.5,523.2 337.1,536.5 282.2,543.1" fill="none" stroke="#3edfe9" stroke-width="0.9"/>
<polyline points="337.6,534.4 380.0,570.2 443.8,640.0 507.2,695.1" fill="none" stroke="#3edfe9" stroke-width="0.9"/>
<polyline points="339.2,532.6 381.6,568.4 445.4,638.2 508.8,693.3" fill="none" stroke="#3edfe9" stroke-width="0.9"/>
<polyline points="373.5,501.3 396.6,530.0 490.0,627.1 529.3,670.5" fill="none" stroke="#3edfe9" stroke-width="0.9"/>
<polyline points="376.1,501.3 399.2,530.0 492.6,627.1 531.9,670.5" fill="none" stroke="#3edfe9" stroke-width="0.9"/>
<polyline points="380.0,550.8 441.0,618.8 517.0,691.8" fill="none" stroke="#3edfe9" stroke-width="0.9"/>
<polyline points="392.5,538.3 468.8,607.7 518.0,668.2" fill="none" stroke="#3edfe9" stroke-width="0.9"/>
<polyline points="515.0,614.0 505.0,644.0" fill="none" stroke="#3edfe9" stroke-width="0.9"/>
<polyline points="517.2,614.5 507.2,644.5" fill="none" stroke="#3edfe9" stroke-width="0.9"/>
<polyline points="514.0,616.5 537.0,617.0" fill="none" stroke="#3edfe9" stroke-width="0.9"/>
<polyline points="454.8,677.0 472.0,670.0 477.0,668.0" fill="none" stroke="#3edfe9" stroke-width="0.9"/>
<polyline points="455.8,679.0 473.0,672.0 478.0,670.0" fill="none" stroke="#3edfe9" stroke-width="0.9"/>
<polyline points="518.0,689.0 526.0,682.0" fill="none" stroke="#3edfe9" stroke-width="0.9"/>
<path d="M381,545L388,540L398,549L392,558L384,554Z" fill="#fff" stroke="#3edfe9" stroke-width="0.8"/>
<path d="M409.1,575.8L425.8,570.2L443.8,593.8L432.7,606.3L413.3,592.4Z" fill="#fff" stroke="#3edfe9" stroke-width="0.8"/>
<ellipse cx="393.2" cy="552.9" rx="2.8" ry="6.8" transform="rotate(40 393.2 552.9)" fill="#fff" stroke="#3edfe9" stroke-width="0.9"/>
<ellipse cx="420.9" cy="583.4" rx="3.2" ry="8.3" transform="rotate(40 420.9 583.4)" fill="#fff" stroke="#3edfe9" stroke-width="0.9"/>
</svg>
</body></html>
